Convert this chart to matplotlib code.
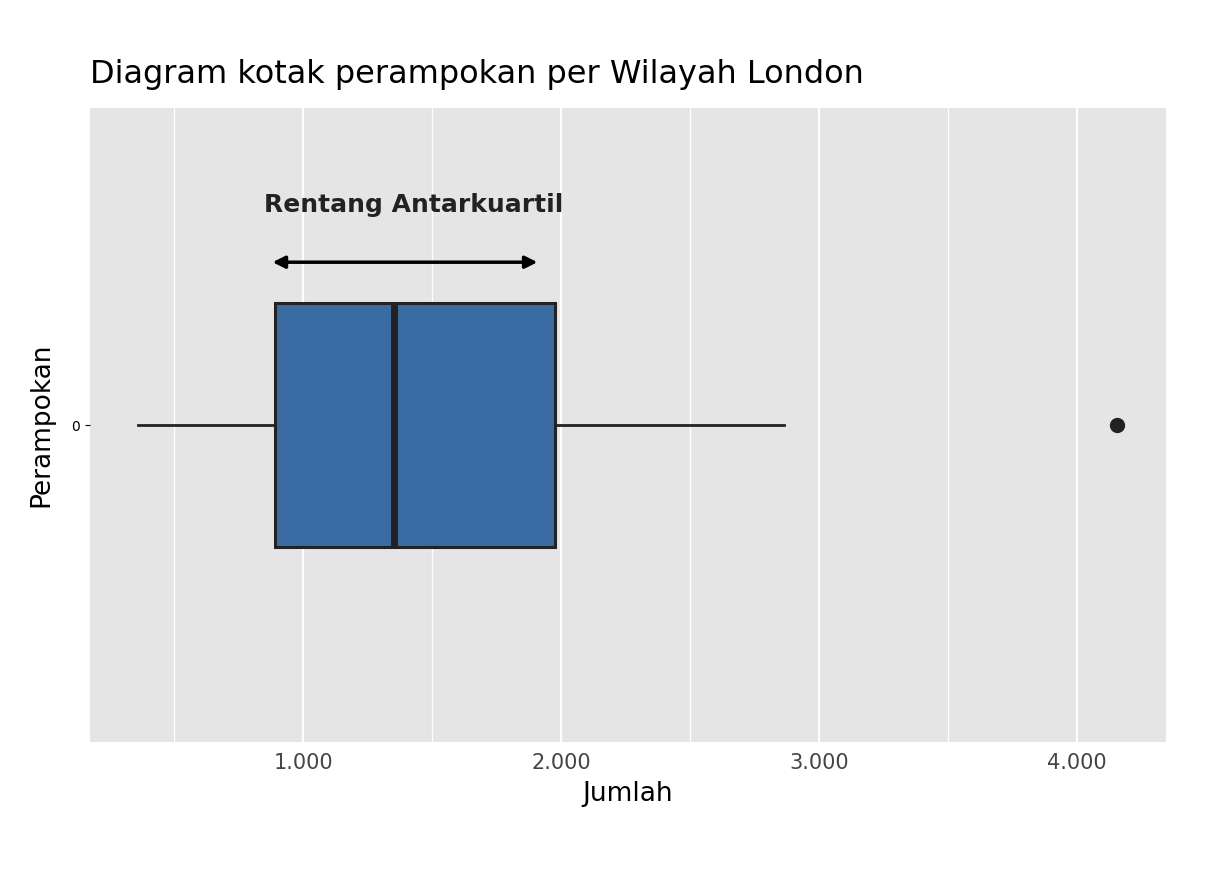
import matplotlib.pyplot as plt
from matplotlib.ticker import FuncFormatter, MultipleLocator

# ringkasan diagram kotak
label = "Perampokan"
whislo = 360
q1 = 891
median = 1353
q3 = 1977
whishi = 2864
outliers = [4155]

major_ticks = [1000, 2000, 3000, 4000]

fig = plt.figure(figsize=(12.16, 8.8), dpi=100)
ax = fig.add_axes([0.074, 0.157, 0.885, 0.72])
ax.set_facecolor("#e5e5e5")
for s in ax.spines.values():
    s.set_visible(False)

ax.set_xlim(174, 4345)
ax.set_ylim(-1, 1)
ax.set_xticks(major_ticks)
ax.xaxis.set_minor_locator(MultipleLocator(500))
ax.xaxis.set_major_formatter(FuncFormatter(lambda v, p: f"{int(v):,}".replace(",", ".")))
ax.grid(True, which="major", axis="x", color="white", lw=1.6)
ax.grid(True, which="minor", axis="x", color="white", lw=0.9)
ax.set_axisbelow(True)
ax.set_yticks([])
ax.tick_params(axis="x", which="both", length=0, labelsize=15, colors="#444444", pad=8)

stats = [dict(whislo=whislo, q1=q1, med=median, q3=q3, whishi=whishi, fliers=outliers)]
ax.bxp(stats, positions=[0], widths=0.77, vert=False, patch_artist=True, showcaps=False,
       boxprops=dict(facecolor="#3a6ca3", edgecolor="#222222", lw=2.2),
       medianprops=dict(color="#222222", lw=5),
       whiskerprops=dict(color="#222222", lw=2),
       flierprops=dict(marker="o", markerfacecolor="#222222", markeredgecolor="#222222", markersize=10))

ax.annotate("", xy=(q1 - 20, 0.514), xytext=(1919, 0.514),
            arrowprops=dict(arrowstyle="<|-|>", color="black", lw=2.5, mutation_scale=18))
ax.text(1430, 0.694, "Rentang Antarkuartil", ha="center", va="center",
        fontsize=18, fontweight="bold", color="#222222")

ax.set_xlabel("Jumlah", fontsize=19, labelpad=6)
ax.set_ylabel(label, fontsize=19, labelpad=12)
ax.set_title("Diagram kotak perampokan per Wilayah London", fontsize=23, loc="left", pad=18)

fig.savefig("out.png")
